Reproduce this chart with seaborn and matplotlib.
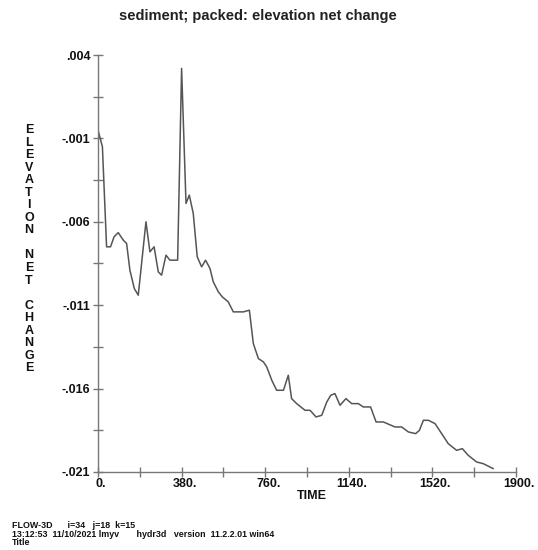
import matplotlib
matplotlib.use("Agg")
import matplotlib.pyplot as plt
import matplotlib.transforms as mtransforms
import seaborn as sns
import pandas as pd
import numpy as np

# Elevation net change time history
time = [0, 20, 39, 57, 73, 92, 115, 130, 145, 165, 183, 218, 236, 255, 274, 289,
        309, 327, 362, 380, 400, 415, 433, 451, 471, 489, 509, 524, 547, 565, 592,
        615, 661, 688, 706, 729, 752, 767, 790, 812, 843, 865, 880, 903, 941, 964,
        991, 1017, 1040, 1058, 1077, 1100, 1127, 1153, 1183, 1206, 1239, 1264, 1297,
        1350, 1380, 1411, 1444, 1461, 1479, 1502, 1532, 1562, 1592, 1630, 1656,
        1683, 1721, 1751, 1797]
elev = [-0.0005, -0.0015, -0.0075, -0.0075, -0.0069, -0.00665, -0.0071, -0.0073,
        -0.0089, -0.0100, -0.0104, -0.0060, -0.0078, -0.0075, -0.0090, -0.0092,
        -0.0080, -0.0083, -0.0083, 0.0032, -0.0049, -0.0044, -0.0055, -0.0081,
        -0.0087, -0.0083, -0.0088, -0.0096, -0.0102, -0.0105, -0.0108, -0.0114,
        -0.0114, -0.0113, -0.0133, -0.0142, -0.0144, -0.0147, -0.0155, -0.0161,
        -0.0161, -0.0152, -0.0166, -0.0169, -0.0173, -0.0173, -0.0177, -0.0176,
        -0.0168, -0.0164, -0.0163, -0.0170, -0.0166, -0.0169, -0.0169, -0.0171,
        -0.0171, -0.0180, -0.0180, -0.0183, -0.0183, -0.0186, -0.0187, -0.0185,
        -0.0179, -0.0179, -0.0181, -0.0187, -0.0193, -0.0197, -0.0196, -0.0200,
        -0.0204, -0.0205, -0.0208]

x_ticks = [0, 380, 760, 1140, 1520, 1900]
x_labels = ["0.", "380.", "760.", "1140.", "1520.", "1900."]
y_ticks = [0.004, -0.001, -0.006, -0.011, -0.016, -0.021]
y_labels = [".004", "-.001", "-.006", "-.011", "-.016", "-.021"]

title = "sediment; packed: elevation net change"
ylabel_words = ["ELEVATION", "NET", "CHANGE"]
footer = ["FLOW-3D      i=34   j=18  k=15",
          "13:12:53  11/10/2021 lmyv       hydr3d   version  11.2.2.01 win64",
          "Title"]

sns.set_theme(style="white")
plt.rcParams["font.family"] = ["Liberation Sans", "DejaVu Sans"]

df = pd.DataFrame({"TIME": time, "ELEV": elev})

fig = plt.figure(figsize=(5.38, 5.50), dpi=100)
ax = fig.add_axes([98 / 538, 1 - 472 / 550, 418 / 538, 417 / 550])

sns.lineplot(data=df, x="TIME", y="ELEV", ax=ax, color="#555555", linewidth=1.1)

ax.set_xlim(0, 1900)
ax.set_ylim(-0.021, 0.004)
ax.set_xticks(x_ticks)
ax.set_xticklabels(x_labels, fontsize=9, fontweight="bold")
ax.set_yticks(y_ticks)
ax.set_yticklabels(y_labels, fontsize=9, fontweight="bold")
ax.set_xticks(np.arange(190, 1900, 380), minor=True)
ax.set_yticks(np.arange(-0.0185, 0.004, 0.005), minor=True)

for side in ("top", "right"):
    ax.spines[side].set_visible(False)
for side in ("left", "bottom"):
    ax.spines[side].set_color("#777777")
    ax.spines[side].set_linewidth(1.0)

ax.tick_params(axis="both", which="both", direction="inout", length=7, width=1.0,
               color="#777777", left=True, bottom=True, labelcolor="#111111")
ax.tick_params(axis="x", which="major", pad=1)
ax.tick_params(axis="y", which="major", pad=2)
ax.set_xlabel("")
ax.set_ylabel("")

# the numbers sit on the ticks, the trailing point hangs to the right
shift = mtransforms.ScaledTranslation(3 / 100, 0, fig.dpi_scale_trans)
for lab in ax.get_xticklabels():
    lab.set_transform(lab.get_transform() + shift)

fig.text(312 / 538, 1 - 496 / 550, "TIME", ha="center", va="center",
         fontsize=9, fontweight="bold", color="#111111")

fig.text(258 / 538, 1 - 16 / 550, title, ha="center", va="center",
         fontsize=10.5, fontweight="bold", color="#222222")

# stacked vertical axis label, one letter per line, blank line between words
letters = []
for i, w in enumerate(ylabel_words):
    if i:
        letters.append(" ")
    letters.extend(list(w))
top_px, step_px = 130, 12.55
for i, ch in enumerate(letters):
    fig.text(29 / 538, 1 - (top_px + i * step_px) / 550, ch, ha="center",
             va="center", fontsize=9, fontweight="bold", color="#111111")

for i, line in enumerate(footer):
    fig.text(12 / 538, 1 - (526 + i * 8.2) / 550, line, ha="left", va="center",
             fontsize=6.4, fontweight="bold", color="#111111")

fig.savefig("out.png", dpi=100, facecolor="white")
